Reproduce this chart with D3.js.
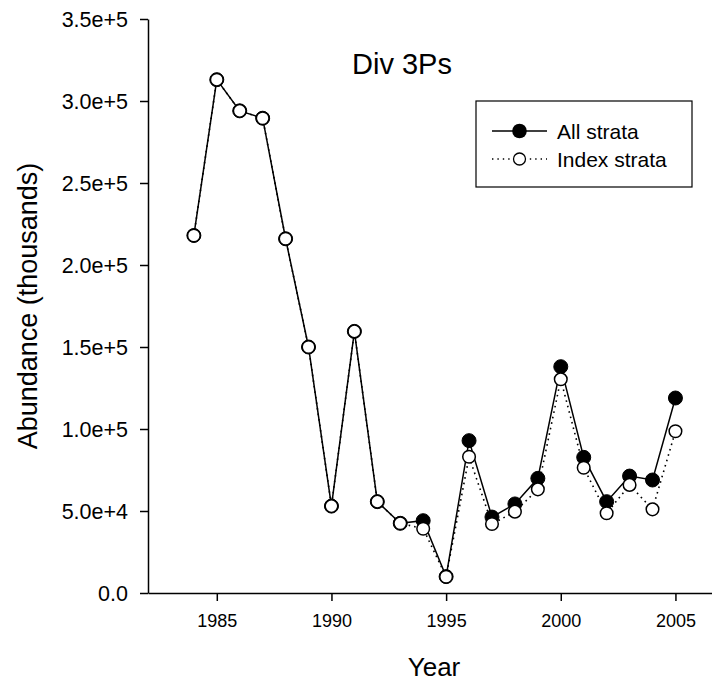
<!DOCTYPE html>
<html>
<head>
<meta charset="utf-8">
<script src="https://cdn.jsdelivr.net/npm/d3@7"></script>
<style>
  html, body { margin: 0; padding: 0; background: #fff; }
  svg { display: block; }
  text { font-family: "Liberation Sans", Arial, sans-serif; fill: #000; }
</style>
</head>
<body>
<svg id="chart" width="712" height="682"></svg>
<script>
const years = [1984, 1985, 1986, 1987, 1988, 1989, 1990, 1991, 1992, 1993, 1994,
               1995, 1996, 1997, 1998, 1999, 2000, 2001, 2002, 2003, 2004, 2005];
const allStrata = [218000, 313000, 294000, 289500, 216000, 150000, 53000, 159500, 55700, 42500, 44100,
                   10000, 92900, 46300, 54300, 69900, 138000, 82700, 55700, 71300, 68900, 118900];
const indexStrata = [218000, 313000, 294000, 289500, 216000, 150000, 53000, 159500, 55700, 42500, 39200,
                     9900, 83100, 42100, 49600, 63200, 130300, 76400, 48600, 65900, 51000, 98600];
const yTickValues = [0, 50000, 100000, 150000, 200000, 250000, 300000, 350000];
const yTickLabels = ["0.0", "5.0e+4", "1.0e+5", "1.5e+5", "2.0e+5", "2.5e+5", "3.0e+5", "3.5e+5"];
const xTickValues = [1985, 1990, 1995, 2000, 2005];
const seriesNames = ["All strata", "Index strata"];

const svg = d3.select("#chart");
const x = d3.scaleLinear().domain([1982, 2007]).range([148, 721.3]);
const y = d3.scaleLinear().domain([0, 350000]).range([593, 19]);

// axes
const yAxis = svg.append("g").attr("transform", "translate(148,0)")
  .call(d3.axisLeft(y).tickValues(yTickValues).tickFormat((d, i) => yTickLabels[i])
        .tickSize(8).tickSizeOuter(0).tickPadding(12));
const xAxis = svg.append("g").attr("transform", "translate(0,593)")
  .call(d3.axisBottom(x).tickValues(xTickValues).tickFormat(d3.format("d"))
        .tickSize(8).tickSizeOuter(0).tickPadding(13));
[yAxis, xAxis].forEach(g => {
  g.attr("font-family", null).attr("font-size", null);
  g.select(".domain").attr("stroke", "#000").attr("stroke-width", 1.5);
  g.selectAll(".tick line").attr("stroke", "#000").attr("stroke-width", 1.5);
});
yAxis.selectAll(".tick text").style("font-size", "21.5px").attr("dy", "0.36em");
xAxis.selectAll(".tick text").style("font-size", "18px").attr("dy", "0.72em");

// axis titles
svg.append("text").attr("x", 434).attr("y", 676).attr("text-anchor", "middle")
  .style("font-size", "26px").text("Year");
svg.append("text").attr("transform", "translate(37,306) rotate(-90)").attr("text-anchor", "middle")
  .style("font-size", "27px").text("Abundance (thousands)");

// chart title
svg.append("text").attr("x", 352).attr("y", 74).style("font-size", "29px").text("Div 3Ps");

// lines
const dataAll = years.map((yr, i) => ({ yr, v: allStrata[i] }));
const dataIdx = years.map((yr, i) => ({ yr, v: indexStrata[i] }));
const line = d3.line().x(d => x(d.yr)).y(d => y(d.v));

svg.append("path").datum(dataIdx).attr("d", line).attr("fill", "none")
  .attr("stroke", "#000").attr("stroke-width", 1.6).attr("stroke-dasharray", "1.6,4");
svg.append("path").datum(dataAll).attr("d", line).attr("fill", "none")
  .attr("stroke", "#000").attr("stroke-width", 1.5);

svg.append("g").selectAll("circle").data(dataAll).join("circle")
  .attr("cx", d => x(d.yr)).attr("cy", d => y(d.v)).attr("r", 7)
  .attr("fill", "#000").attr("stroke", "#000").attr("stroke-width", 1);
svg.append("g").selectAll("circle").data(dataIdx).join("circle")
  .attr("cx", d => x(d.yr)).attr("cy", d => y(d.v)).attr("r", 6.3)
  .attr("fill", "#fff").attr("stroke", "#000").attr("stroke-width", 1.5);

// legend
const lg = svg.append("g");
lg.append("rect").attr("x", 476).attr("y", 101).attr("width", 216).attr("height", 86)
  .attr("fill", "#fff").attr("stroke", "#000").attr("stroke-width", 1.2);
const rows = [131, 159];
lg.append("line").attr("x1", 492).attr("x2", 547).attr("y1", rows[0]).attr("y2", rows[0])
  .attr("stroke", "#000").attr("stroke-width", 1.5);
lg.append("circle").attr("cx", 519.5).attr("cy", rows[0]).attr("r", 7.3).attr("fill", "#000");
lg.append("line").attr("x1", 492).attr("x2", 547).attr("y1", rows[1]).attr("y2", rows[1])
  .attr("stroke", "#000").attr("stroke-width", 1.4).attr("stroke-dasharray", "1.4,4");
lg.append("circle").attr("cx", 519.5).attr("cy", rows[1]).attr("r", 6).attr("fill", "#fff")
  .attr("stroke", "#000").attr("stroke-width", 1.3);
seriesNames.forEach((name, i) => {
  lg.append("text").attr("x", 557).attr("y", rows[i]).attr("dy", "0.36em")
    .style("font-size", "21px").text(name);
});
</script>
</body>
</html>
